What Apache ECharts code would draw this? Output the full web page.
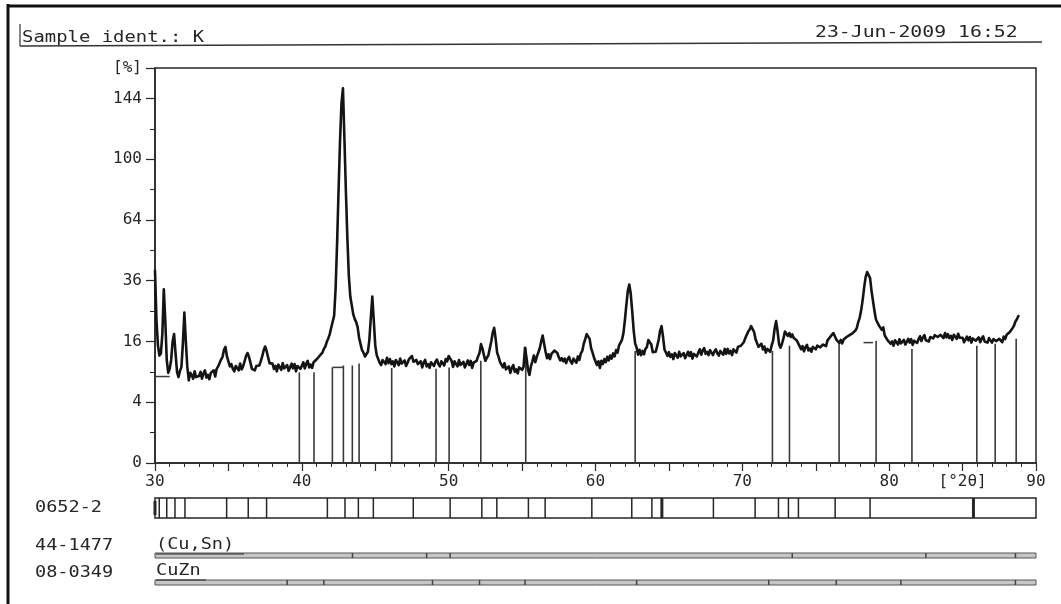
<!DOCTYPE html>
<html><head><meta charset="utf-8">
<script src="https://cdn.jsdelivr.net/npm/echarts@6/dist/echarts.min.js"></script>
<style>html,body{margin:0;padding:0;background:#fff}#c{width:1061px;height:604px}</style>
</head><body><div id="c"></div>
<script>
// ---- data (intensity in %, 2-theta in degrees) ----
const scanStart = 30.0;
const scanStep = 0.1;
const scanCounts = [
 40, 22, 15, 12.5, 13, 18, 32.7, 22, 11.5, 8.8,                 // 30
 9.6, 11.5, 16, 18, 13, 9.0, 8.0, 9.2, 10, 15.5,                // 31
 24.5, 16, 10, 7.4, 8.8, 8.4, 7.7, 9.1, 8.0, 8.2,               // 32
 8.2, 9.0, 7.7, 8.7, 9.3, 7.9, 8.4, 7.6, 8.8, 8.6,              // 33
 9.3, 8.1, 9.6, 10.1, 10.3, 11.6, 12.2, 13.9, 14.6, 12.3,       // 34
 11.2, 10.1, 10.6, 9.6, 9.1, 10.2, 9.9, 9.3, 10.7, 9.5,         // 35
 10.1, 11.2, 12.4, 13.1, 12.2, 10.9, 9.6, 10.0, 9.3, 10.2,      // 36
 10.4, 10.3, 11.2, 12.3, 13.7, 14.7, 13.6, 12.1, 10.8, 10.6,    // 37
 10.7, 9.6, 10.2, 9.1, 10.5, 10.1, 9.4, 10.8, 9.7, 9.9,         // 38
 10.4, 9.2, 9.9, 10.7, 9.7, 10.6, 9.1, 10.2, 10.5, 9.6,         // 39
 10.2, 11.0, 9.7, 10.7, 11.3, 9.9, 10.5, 9.8, 11.0, 10.8,       // 40
 11.6, 11.3, 12.4, 12.7, 13.2, 14.1, 14.7, 15.9, 16.8, 18.0,    // 41
 19.8, 20.0, 23.5, 33, 52, 80, 112, 140, 152, 114,              // 42
 80, 55, 38, 30, 27, 24, 22.5, 21.5, 20, 17,                    // 43
 15.3, 13.8, 13.2, 12.3, 12.4, 13.4, 16.5, 23, 30, 22,          // 44
 15, 12.6, 12.2, 10.9, 10.4, 11.5, 11.2, 10.6, 12.0, 10.8,      // 45
 11.7, 10.6, 11.2, 10.1, 11.5, 11.1, 10.4, 11.8, 10.7, 10.9,    // 46
 11.4, 10.2, 10.9, 11.7, 11.9, 12.4, 11.1, 11.2, 11.5, 10.6,    // 47
 10.4, 11.2, 9.9, 10.9, 11.5, 10.1, 10.6, 9.8, 11.0, 10.8,      // 48
 10.2, 11.1, 11.6, 10.6, 10.1, 11.2, 10.9, 10.3, 11.7, 11.2,    // 49
 12.4, 12.1, 11.3, 10.0, 11.2, 10.8, 10.1, 11.5, 10.4, 10.6,    // 50
 11.1, 9.9, 10.6, 11.4, 10.4, 11.3, 9.8, 10.9, 11.2, 11.3,      // 51
 12.3, 13.1, 15.3, 14.2, 12.6, 11.3, 12.0, 12.5, 14.2, 16.0,    // 52
 18.4, 19.8, 16.7, 13.2, 12.2, 11.0, 11.1, 9.9, 10.8, 9.5,      // 53
 9.3, 10.1, 8.8, 9.8, 10.4, 9.0, 9.5, 8.7, 9.9, 9.7,            // 54
 9.4, 10.0, 14.4, 12.0, 9.5, 8.4, 10.1, 11.2, 12.5, 11.0,       // 55
 12.2, 12.4, 14.2, 16.0, 17.6, 15.4, 13.4, 11.9, 12.8, 11.7,    // 56
 12.9, 13.2, 13.7, 14.1, 13.1, 12.1, 11.4, 11.9, 11.2, 11.8,    // 57
 10.8, 11.7, 12.2, 11.2, 10.7, 11.8, 11.5, 10.9, 12.3, 11.5,    // 58
 13.0, 13.6, 15.4, 16.6, 18.0, 17.8, 16.7, 14.3, 13.2, 12.0,    // 59
 11.8, 10.4, 11.2, 9.8, 11.3, 10.6, 11.7, 11.0, 12.2, 11.4,     // 60
 12.5, 11.8, 13.0, 12.3, 13.8, 13.2, 14.9, 14.5, 16.4, 18.2,    // 61
 22, 27, 32, 34.5, 31, 25, 19, 15.5, 14.4, 12.7,                // 62
 13.9, 12.6, 13.6, 12.8, 14.1, 14.6, 16.4, 16.4, 15.2, 13.3,    // 63
 13.3, 13.4, 14.8, 16.4, 19.0, 20.3, 17.2, 13.9, 13.2, 12.4,    // 64
 13.3, 12.2, 12.8, 11.7, 13.1, 12.7, 12.0, 13.4, 12.3, 12.5,    // 65
 13.1, 11.9, 12.6, 13.4, 12.4, 13.3, 11.8, 12.9, 13.2, 12.3,    // 66
 13.2, 14.0, 12.7, 13.7, 14.3, 12.9, 13.4, 12.6, 13.8, 13.6,    // 67
 12.6, 13.5, 14.0, 13.0, 12.5, 13.6, 13.3, 12.7, 14.1, 12.9,    // 68
 14.1, 13.0, 13.6, 12.6, 14.0, 13.7, 13.2, 14.6, 14.4, 14.9,    // 69
 15.4, 15.8, 16.9, 17.3, 18.7, 19.3, 20.3, 19.8, 18.6, 16.6,    // 70
 16.1, 14.6, 15.1, 15.4, 14.0, 14.7, 13.2, 14.1, 14.3, 13.4,    // 71
 15.0, 16.3, 19.6, 21.8, 18.8, 15.3, 14.4, 15.4, 16.8, 18.7,    // 72
 18.9, 17.5, 18.3, 17.2, 17.9, 16.9, 17.4, 16.3, 16.4, 14.8,    // 73
 14.0, 14.8, 13.5, 14.5, 15.1, 13.7, 14.2, 13.4, 14.6, 14.4,    // 74
 14.0, 14.9, 15.4, 14.5, 14.1, 15.2, 15.1, 14.8, 16.3, 15.9,    // 75
 17.3, 17.8, 18.3, 17.4, 16.5, 16.2, 15.6, 16.4, 15.5, 16.5,    // 76
 16.4, 17.2, 17.0, 17.7, 17.3, 18.2, 18.1, 19.0, 19.8, 21.6,    // 77
 23, 25.5, 29, 33.5, 37.5, 39.5, 39.8, 37, 32, 28.4,            // 78
 25, 22.3, 21.7, 20.5, 20.8, 19.2, 19.9, 17.6, 18.0, 16.3,      // 79
 16.5, 15.4, 16.0, 14.9, 16.3, 15.9, 15.2, 16.6, 15.5, 15.7,    // 80
 16.4, 15.2, 15.9, 16.7, 15.7, 16.6, 15.1, 16.2, 16.5, 15.6,    // 81
 16.6, 17.4, 16.1, 17.1, 17.7, 16.3, 16.8, 16.0, 17.2, 17.0,    // 82
 16.8, 17.7, 18.2, 17.2, 16.7, 17.8, 17.5, 16.9, 18.3, 17.1,    // 83
 18.0, 16.9, 17.5, 16.4, 17.8, 17.4, 16.7, 18.1, 17.0, 17.2,    // 84
 17.0, 15.8, 16.5, 17.3, 16.3, 17.2, 15.7, 16.8, 17.1, 16.2,    // 85
 16.3, 17.1, 15.8, 16.8, 17.4, 16.0, 16.5, 15.7, 16.9, 16.7,    // 86
 15.7, 16.6, 17.1, 16.1, 15.6, 16.7, 16.4, 15.8, 17.3, 16.6,    // 87
 17.8, 17.4, 18.5, 18.6, 19.7, 20.4, 21.7, 22.4, 23.4           // 88.0-88.8
];

// reference (stick) lines under the scan
const stickAngles = [39.83, 40.83, 42.08, 42.83, 43.44, 43.90, 46.12, 49.14, 50.03, 52.19, 55.25, 62.70, 72.05, 73.21, 76.59, 79.11, 81.55, 85.97, 87.22, 88.65];
const stickTops   = [8.9, 8.9, 9.9, 10.3, 10.3, 10.7, 9.8, 9.6, 9.9, 11.3, 14.4, 13.6, 13.6, 14.9, 15.4, 16.2, 14.1, 14.9, 15.4, 16.7];

// short horizontal background markers
const markStart = [30.0, 42.08, 78.25];
const markEnd   = [31.0, 42.83, 78.90];
const markLevel = [8.1, 9.9, 15.7];

// pattern 0652-2 lines
const refAngles = [30.29, 30.8, 31.36, 32.04, 34.88, 36.35, 37.6, 41.74, 42.94, 43.85, 44.87, 47.59, 50.1, 52.26, 53.28, 55.43, 56.57, 59.75, 62.47, 63.84, 64.52, 68.03, 70.87, 72.46, 73.14, 73.82, 76.32, 78.7, 85.74];
const refBold = [64.52, 85.74];

// marks in the thin phase bars
const cuSnMarks = [43.45, 48.5, 50.1, 73.4, 82.5, 88.6];
const cuZnMarks = [39.0, 41.5, 48.9, 52.1, 55.2, 62.8, 71.8, 76.4, 80.8, 88.6];

// axis tick labels
const yTickValues = [0, 4, 16, 36, 64, 100, 144];
const xTickLabels = [30, 40, 50, 60, 70, 80, 90];
const yUnit = '[%]';
const xUnit = '[°2θ]';

// ---- chart ----
const FONT = '"DejaVu Sans Mono", "Liberation Mono", monospace';
const INK = '#262626';
const yMaxRoot = 13;

const scanData = scanCounts.map((v, i) => [+(scanStart + i * scanStep).toFixed(2), Math.sqrt(v)]);
const stickData = stickAngles.map((a, i) => [a, Math.sqrt(stickTops[i])]);
const markData = markStart.map((s, i) => [s, markEnd[i], Math.sqrt(markLevel[i])]);

function vline(color, width) {
  return function (params, api) {
    const x = api.value(0);
    const p0 = api.coord([x, 0]);
    const p1 = api.coord([x, api.value(1)]);
    return { type: 'line', shape: { x1: p0[0], y1: p0[1], x2: p1[0], y2: p1[1] },
      style: { stroke: color, lineWidth: width } };
  };
}

const chart = echarts.init(document.getElementById('c'));
const hiddenX = (g) => ({ gridIndex: g, type: 'value', min: 30, max: 90, show: false });
const hiddenY = (g) => ({ gridIndex: g, type: 'value', min: 0, max: 1, show: false });

chart.setOption({
  animation: false,
  backgroundColor: '#ffffff',
  grid: [
    { left: 155, right: 25, top: 68, height: 395, show: true, borderColor: INK, borderWidth: 1.5, backgroundColor: 'transparent' },
    { left: 155, right: 25, top: 498, height: 20, show: true, borderColor: INK, borderWidth: 1.5, backgroundColor: 'transparent' },
    { left: 155, right: 25, top: 553, height: 5, show: true, borderColor: '#555', borderWidth: 1, backgroundColor: '#c6c6c6' },
    { left: 155, right: 25, top: 580, height: 5, show: true, borderColor: '#555', borderWidth: 1, backgroundColor: '#c6c6c6' }
  ],
  xAxis: [
    { gridIndex: 0, type: 'value', min: 30, max: 90, interval: 5,
      axisLine: { lineStyle: { color: INK, width: 1.5 } },
      axisTick: { show: true, length: 8, lineStyle: { color: INK, width: 1.2 } },
      minorTick: { show: true, splitNumber: 5, length: 4, lineStyle: { color: INK, width: 1 } },
      splitLine: { show: false },
      axisLabel: { margin: 11, color: INK, fontFamily: FONT, fontSize: 16,
        formatter: v => xTickLabels.includes(v) ? String(v) : (v === 85 ? xUnit : '') } },
    hiddenX(1), hiddenX(2), hiddenX(3)
  ],
  yAxis: [
    { gridIndex: 0, type: 'value', min: 0, max: yMaxRoot, interval: 2,
      axisLine: { show: true, lineStyle: { color: INK, width: 1.5 } },
      axisTick: { show: true, length: 9, lineStyle: { color: INK, width: 1.2 } },
      minorTick: { show: true, splitNumber: 2, length: 5, lineStyle: { color: INK, width: 1 } },
      splitLine: { show: false },
      axisLabel: { margin: 13, color: INK, fontFamily: FONT, fontSize: 16,
        formatter: v => {
          const sq = Math.round(v * v);
          if (Math.abs(v - Math.round(v)) < 1e-6 && yTickValues.includes(sq)) return String(sq);
          if (v >= yMaxRoot - 1e-6) return yUnit;
          return '';
        } } },
    hiddenY(1), hiddenY(2), hiddenY(3)
  ],
  series: [
    { type: 'custom', xAxisIndex: 0, yAxisIndex: 0, data: stickData, renderItem: vline('#3a3a3a', 1.6), z: 2 },
    { type: 'custom', xAxisIndex: 0, yAxisIndex: 0, data: markData, z: 2,
      renderItem: (p, api) => {
        const a = api.coord([api.value(0), api.value(2)]);
        const b = api.coord([api.value(1), api.value(2)]);
        return { type: 'line', shape: { x1: a[0], y1: a[1], x2: b[0], y2: b[1] }, style: { stroke: '#3a3a3a', lineWidth: 1.5 } };
      } },
    { type: 'line', xAxisIndex: 0, yAxisIndex: 0, data: scanData, showSymbol: false, symbol: 'none', sampling: null,
      lineStyle: { color: '#141414', width: 2.6, join: 'round', cap: 'round' }, z: 3 },
    { type: 'custom', xAxisIndex: 1, yAxisIndex: 1,
      data: refAngles.map(a => [a, 1, refBold.includes(a) ? 3 : 1.5]),
      renderItem: (p, api) => {
        const x = api.value(0);
        const p0 = api.coord([x, 0]), p1 = api.coord([x, 1]);
        return { type: 'line', shape: { x1: p0[0], y1: p0[1], x2: p1[0], y2: p1[1] }, style: { stroke: INK, lineWidth: api.value(2) } };
      } },
    { type: 'custom', xAxisIndex: 2, yAxisIndex: 2, data: cuSnMarks.map(a => [a, 1]), renderItem: vline('#444', 1.5) },
    { type: 'custom', xAxisIndex: 3, yAxisIndex: 3, data: cuZnMarks.map(a => [a, 1]), renderItem: vline('#444', 1.5) }
  ],
  graphic: [
    { type: 'line', shape: { x1: 8, y1: 4, x2: 8, y2: 604 }, style: { stroke: '#111', lineWidth: 3 } },
    { type: 'line', shape: { x1: 7, y1: 6, x2: 1061, y2: 6 }, style: { stroke: '#111', lineWidth: 3 } },
    { type: 'line', shape: { x1: 20, y1: 46, x2: 1042, y2: 42 }, style: { stroke: '#333', lineWidth: 1.5 } },
    { type: 'line', shape: { x1: 20, y1: 24, x2: 20, y2: 46 }, style: { stroke: '#333', lineWidth: 1.2 } },
    { type: 'line', shape: { x1: 155, y1: 501, x2: 155, y2: 515 }, style: { stroke: INK, lineWidth: 3 } },
    { type: 'text', x: 22, y: 31, scaleX: 1.26, style: { text: 'Sample ident.: K', font: '15px ' + FONT, fill: INK } },
    { type: 'text', x: 815, y: 26, scaleX: 1.32, style: { text: '23-Jun-2009 16:52', font: '15px ' + FONT, fill: INK } },
    { type: 'text', x: 35, y: 500, scaleX: 1.16, style: { text: '0652-2', font: '16px ' + FONT, fill: INK } },
    { type: 'text', x: 35, y: 538, scaleX: 1.16, style: { text: '44-1477', font: '16px ' + FONT, fill: INK } },
    { type: 'text', x: 35, y: 565, scaleX: 1.16, style: { text: '08-0349', font: '16px ' + FONT, fill: INK } },
    { type: 'text', x: 156, y: 537, scaleX: 1.16, style: { text: '(Cu,Sn)', font: '16px ' + FONT, fill: INK } },
    { type: 'text', x: 156, y: 563, scaleX: 1.16, style: { text: 'CuZn', font: '16px ' + FONT, fill: INK } },
    { type: 'line', shape: { x1: 156, y1: 554, x2: 244, y2: 554 }, style: { stroke: INK, lineWidth: 1 } },
    { type: 'line', shape: { x1: 156, y1: 580, x2: 206, y2: 580 }, style: { stroke: INK, lineWidth: 1 } }
  ]
});
</script></body></html>
